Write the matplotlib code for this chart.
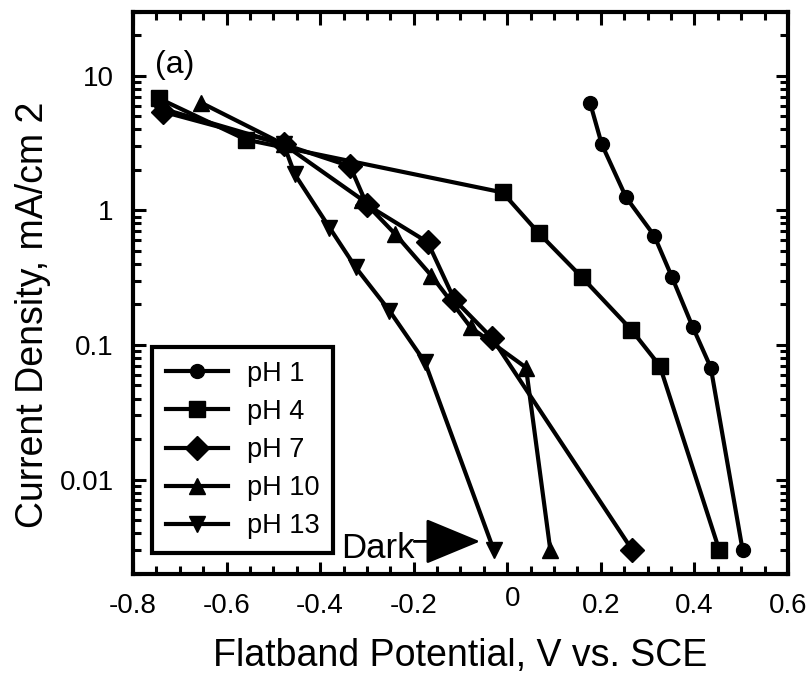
import matplotlib
matplotlib.use("Agg")
import matplotlib.pyplot as plt
from matplotlib.ticker import FixedLocator, MultipleLocator, LogLocator, NullFormatter
from matplotlib.patches import ArrowStyle
from matplotlib.transforms import ScaledTranslation

plt.rcParams['font.family'] = ['Liberation Sans', 'DejaVu Sans']
plt.rcParams['axes.unicode_minus'] = False

# Flatband potential (V vs. SCE) and current density (mA/cm^2) for each pH
ph1_x = [0.177, 0.202, 0.254, 0.314, 0.352, 0.396, 0.435, 0.503]
ph1_y = [6.3, 3.1, 1.25, 0.65, 0.32, 0.137, 0.068, 0.003]

ph4_x = [-0.745, -0.559, -0.010, 0.067, 0.159, 0.265, 0.326, 0.453]
ph4_y = [6.8, 3.36, 1.36, 0.68, 0.32, 0.13, 0.070, 0.003]

ph7_x = [-0.735, -0.478, -0.336, -0.300, -0.170, -0.113, -0.032, 0.267]
ph7_y = [5.4, 3.1, 2.13, 1.10, 0.58, 0.217, 0.112, 0.003]

ph10_x = [-0.654, -0.478, -0.310, -0.239, -0.162, -0.078, 0.040, 0.092]
ph10_y = [6.3, 3.1, 1.20, 0.664, 0.327, 0.135, 0.068, 0.003]

ph13_x = [-0.745, -0.478, -0.454, -0.380, -0.324, -0.252, -0.176, -0.029]
ph13_y = [5.8, 3.1, 1.85, 0.745, 0.377, 0.18, 0.0745, 0.003]

series_labels = ["pH 1", "pH 4", "pH 7", "pH 10", "pH 13"]
series_markers = ["o", "s", "D", "^", "v"]

x_ticks = [-0.8, -0.6, -0.4, -0.2, 0.0, 0.2, 0.4, 0.6]
x_tick_labels = ["-0.8", "-0.6", "-0.4", "-0.2", "0", "0.2", "0.4", "0.6"]
y_ticks = [0.01, 0.1, 1, 10]
y_tick_labels = ["0.01", "0.1", "1", "10"]

dark_level = 0.00347

fig = plt.figure(figsize=(8.08, 6.84), dpi=100)
ax = fig.add_axes([0.1646, 0.1614, 0.8106, 0.8216])

xs = [ph1_x, ph4_x, ph7_x, ph10_x, ph13_x]
ys = [ph1_y, ph4_y, ph7_y, ph10_y, ph13_y]
msizes = [10, 12, 12, 12, 12]
for x, y, lab, mk, ms in zip(xs, ys, series_labels, series_markers, msizes):
    ax.plot(x, y, color="black", lw=3, marker=mk, ms=ms, label=lab,
            markeredgecolor="black", markerfacecolor="black")

ax.set_yscale("log")
ax.set_xlim(-0.8, 0.6)
ax.set_ylim(0.002, 30)

ax.xaxis.set_major_locator(FixedLocator(x_ticks))
ax.set_xticklabels(x_tick_labels)
ax.xaxis.set_minor_locator(MultipleLocator(0.05))
ax.yaxis.set_major_locator(FixedLocator(y_ticks))
ax.set_yticklabels(y_tick_labels)
ax.yaxis.set_minor_locator(LogLocator(base=10, subs=range(2, 10), numticks=20))
ax.yaxis.set_minor_formatter(NullFormatter())

ax.tick_params(which="both", direction="in", top=True, right=True, width=2.2,
               labelsize=20, color="black")
ax.tick_params(which="major", length=9, pad=14)
ax.tick_params(which="minor", length=5.5)
for s in ax.spines.values():
    s.set_linewidth(3)

# the "0" label sits a little right of and above its tick
for lbl in ax.get_xticklabels():
    if lbl.get_text() == "0":
        lbl.set_transform(lbl.get_transform() + ScaledTranslation(4 / 72, 5 / 72, fig.dpi_scale_trans))

ax.set_xlabel("Flatband Potential, V vs. SCE", fontsize=27, labelpad=14)
ax.set_ylabel("Current Density, mA/cm 2", fontsize=27)
ax.yaxis.set_label_coords(-0.125, 0.46)

ax.text(0.034, 0.905, "(a)", transform=ax.transAxes, fontsize=23, ha="left", va="center")

# "Dark" marker with its filled arrow
ax.text(-0.197, 0.00305, "Dark", fontsize=25, ha="right", va="center")
ax.annotate("", xy=(-0.058, dark_level), xytext=(-0.199, dark_level),
            arrowprops=dict(arrowstyle=ArrowStyle("-|>", head_length=3.5, head_width=1.45),
                            mutation_scale=10, color="black", lw=2,
                            shrinkA=0, shrinkB=0))

leg = ax.legend(loc="lower left", bbox_to_anchor=(0.029, 0.0367), borderaxespad=0,
                fontsize=19.5, frameon=True, fancybox=False, framealpha=1,
                handlelength=2.3, handletextpad=0.7, labelspacing=0.45, borderpad=0.5)
leg.get_frame().set_edgecolor("black")
leg.get_frame().set_linewidth(3)

fig.savefig("out.png", dpi=100)
